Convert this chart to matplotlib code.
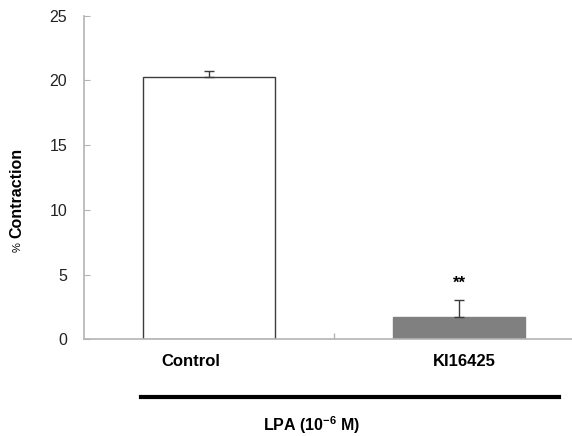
import matplotlib
matplotlib.use("Agg")
import matplotlib.pyplot as plt

plt.rcParams["font.family"] = ["Liberation Sans", "DejaVu Sans"]
plt.rcParams["mathtext.fontset"] = "custom"
plt.rcParams["mathtext.rm"] = "Liberation Sans"
plt.rcParams["mathtext.bf"] = "Liberation Sans:bold"

AXC = "#b4b4b4"; EDGE = "#3c3c3c"; GREY = "#808080"

groups = ["Control", "KI16425"]
means = [20.25, 1.7]
errs = [0.5, 1.3]
fills = ["#ffffff", GREY]
edges = [EDGE, GREY]
sig = ["", "**"]

fig = plt.figure(figsize=(5.72, 4.36), dpi=100)
ax = fig.add_axes([84/572, 96.7/436, 500/572, 323.6/436])
ax.set_xlim(-0.5, 1.5); ax.set_ylim(0, 25)

xs = list(range(len(groups)))
ax.bar(xs, means, width=0.53, color=fills, edgecolor=edges, linewidth=1.0, zorder=2)
ax.errorbar(xs, means, yerr=[[0]*len(errs), errs], fmt="none", ecolor=EDGE,
            elinewidth=1.0, capsize=3.5, capthick=1.0, zorder=3)
for x, m, e, s in zip(xs, means, errs, sig):
    if s:
        ax.text(x, m + e + 0.75, s, ha="center", va="bottom", fontsize=12, fontweight="bold")

for s in ("top", "right"): ax.spines[s].set_visible(False)
for s in ("left", "bottom"):
    ax.spines[s].set_color(AXC); ax.spines[s].set_linewidth(1.2)
ax.spines["bottom"].set_clip_on(False)
ax.set_yticks(range(0, 26, 5))
ax.tick_params(axis="y", direction="in", length=4, color=AXC, labelsize=11.5,
               labelcolor="#222222", pad=12)
ax.set_xticks([0.5]); ax.set_xticklabels([])
ax.tick_params(axis="x", direction="in", length=4.5, color=AXC, width=1.0)

# group labels (slightly offset from bar centres, as in the original)
lab_dx = [-0.072, 0.02]
for x, dx, g in zip(xs, lab_dx, groups):
    ax.text(x + dx, -0.068, g, transform=ax.get_xaxis_transform(), ha="center", va="center",
            fontsize=12, fontweight="bold")

# y label: small plain "%" + bold "Contraction"
fig.text(17/572, 1 - 193/436, "Contraction", rotation=90, ha="center", va="center",
         fontsize=11.5, fontweight="bold")
fig.text(17.5/572, 1 - 247.5/436, "%", rotation=90, ha="center", va="center", fontsize=8)

# treatment bar under both groups
fig.add_artist(plt.Line2D([140.7/572, 559/572], [1 - 396.7/436]*2, color="black", lw=3))
fig.text(312/572, 1 - 425/436, "LPA (10$^{\\mathbf{-6}}$ M)", ha="center", va="center",
         fontsize=11.5, fontweight="bold")

fig.savefig("out.png", dpi=100)
